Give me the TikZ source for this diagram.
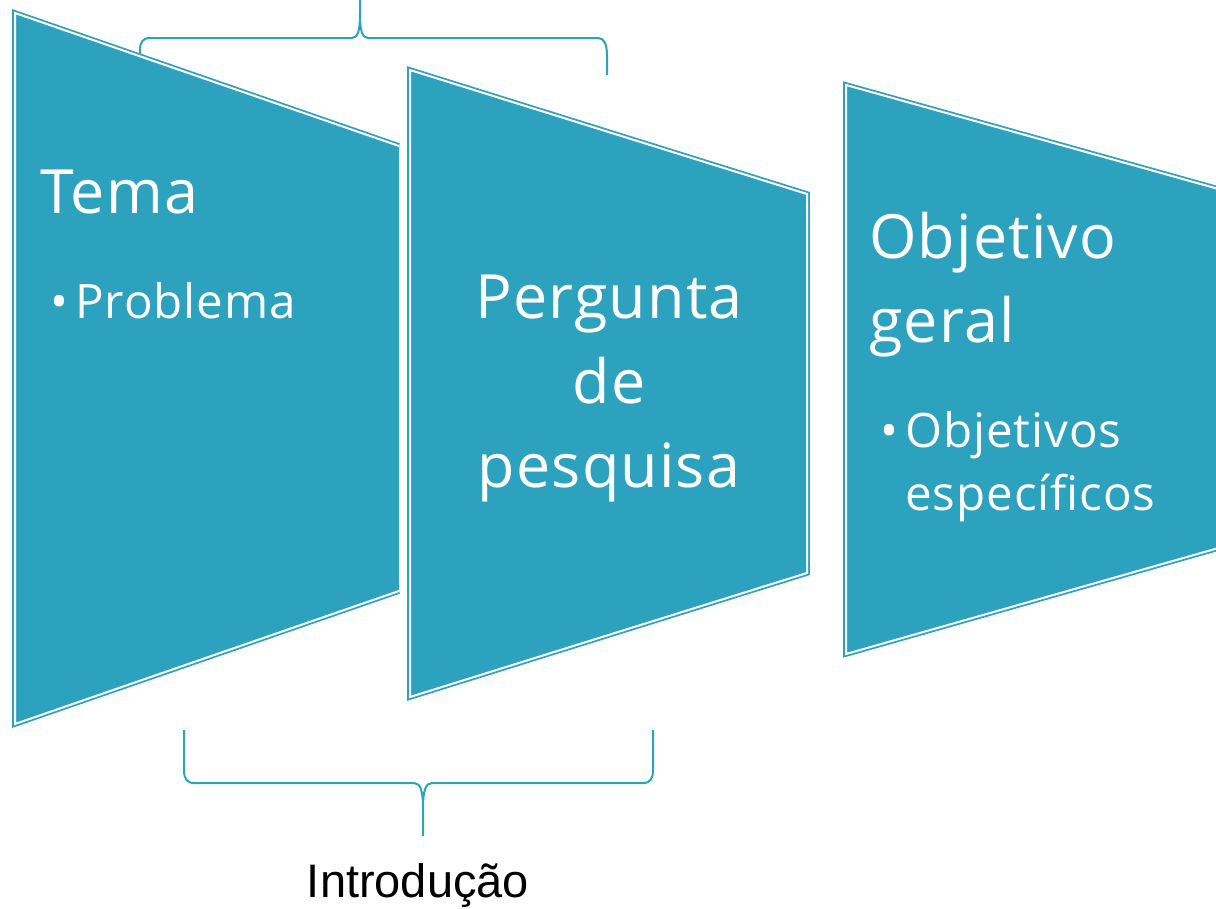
\documentclass[tikz,border=0pt]{standalone}
\usepackage{fontspec}
\setmainfont{Open Sans}[LetterSpace=2]
\newfontfamily\arialf{Liberation Sans}
\definecolor{tealA}{HTML}{2DA2BF}
\begin{document}
\begin{tikzpicture}[x=1pt,y=-1pt,
  shapefill/.style={fill=tealA},
  shapeborder/.style={draw=tealA, double=white, double distance=2pt, line width=1.8pt, line join=miter},
  bracepath/.style={draw=tealA, line width=2pt},
  bigtext/.style={text=white, inner sep=0pt, font=\fontsize{61}{72}\selectfont},
  subtext/.style={text=white, inner sep=0pt, font=\fontsize{47.5}{58}\selectfont},
  labeltext/.style={text=black, inner sep=0pt, font=\arialf\fontsize{47}{56}\selectfont}
]
\useasboundingbox (0,0) rectangle (1216,908);
\clip (0,0) rectangle (1216,908);

% braces (behind shapes)
\draw[bracepath] (140,70) -- (140,50) .. controls (140,42) and (143,38) .. (150,38)
  -- (352,38) .. controls (358,38) and (360,30) .. (360,14) -- (360,-2);
\draw[bracepath] (360,14) .. controls (360,30) and (362,38) .. (368,38)
  -- (598,38) .. controls (604,38) and (607,44) .. (607,56) -- (607,75);

\draw[bracepath] (184,730) -- (184,770) .. controls (184,779) and (187,783) .. (194,783)
  -- (414,783) .. controls (420,783) and (423,790) .. (423,808) -- (423,836);
\draw[bracepath] (423,808) .. controls (423,790) and (426,783) .. (432,783)
  -- (643,783) .. controls (650,783) and (653,779) .. (653,770) -- (653,730);

% shape 1
\fill[shapefill] (399,146) -- (15,13) -- (15,724) -- (399,591) -- cycle;
\draw[shapeborder] (399,146) -- (15,13) -- (15,724) -- (399,591);
% shape 2
\fill[shapefill] (410,70) -- (807,194) -- (807,573) -- (410,697) -- cycle;
\draw[shapeborder] (410,70) -- (807,194) -- (807,573) -- (410,697) -- cycle;
% shape 3
\fill[shapefill] (1222,190) -- (846,85) -- (846,654) -- (1222,547) -- cycle;
\draw[shapeborder] (1222,190) -- (846,85) -- (846,654) -- (1222,547);

% texts
\node[bigtext, anchor=base west] (tema) at (40,213) {Tema};
\node[subtext, anchor=base west] (b1) at (50,318) {•};
\node[subtext, anchor=base west] (prob) at (75,318) {Problema};

\node[bigtext, anchor=base] (perg1) at (609,318) {Pergunta};
\node[bigtext, anchor=base] (perg2) at (609,403) {de};
\node[bigtext, anchor=base] (perg3) at (609,487) {pesquisa};

\node[bigtext, anchor=base west] (obj1) at (869,258) {Objetivo};
\node[bigtext, anchor=base west] (obj2) at (869,342) {geral};
\node[subtext, anchor=base west] (b2) at (880,447) {•};
\node[subtext, anchor=base west] (obj3) at (905,447) {Objetivos};
\node[subtext, anchor=base west] (obj4) at (905,510) {específicos};

\node[labeltext, anchor=base] (intro) at (418,897) {Introdução};
\end{tikzpicture}
\end{document}
